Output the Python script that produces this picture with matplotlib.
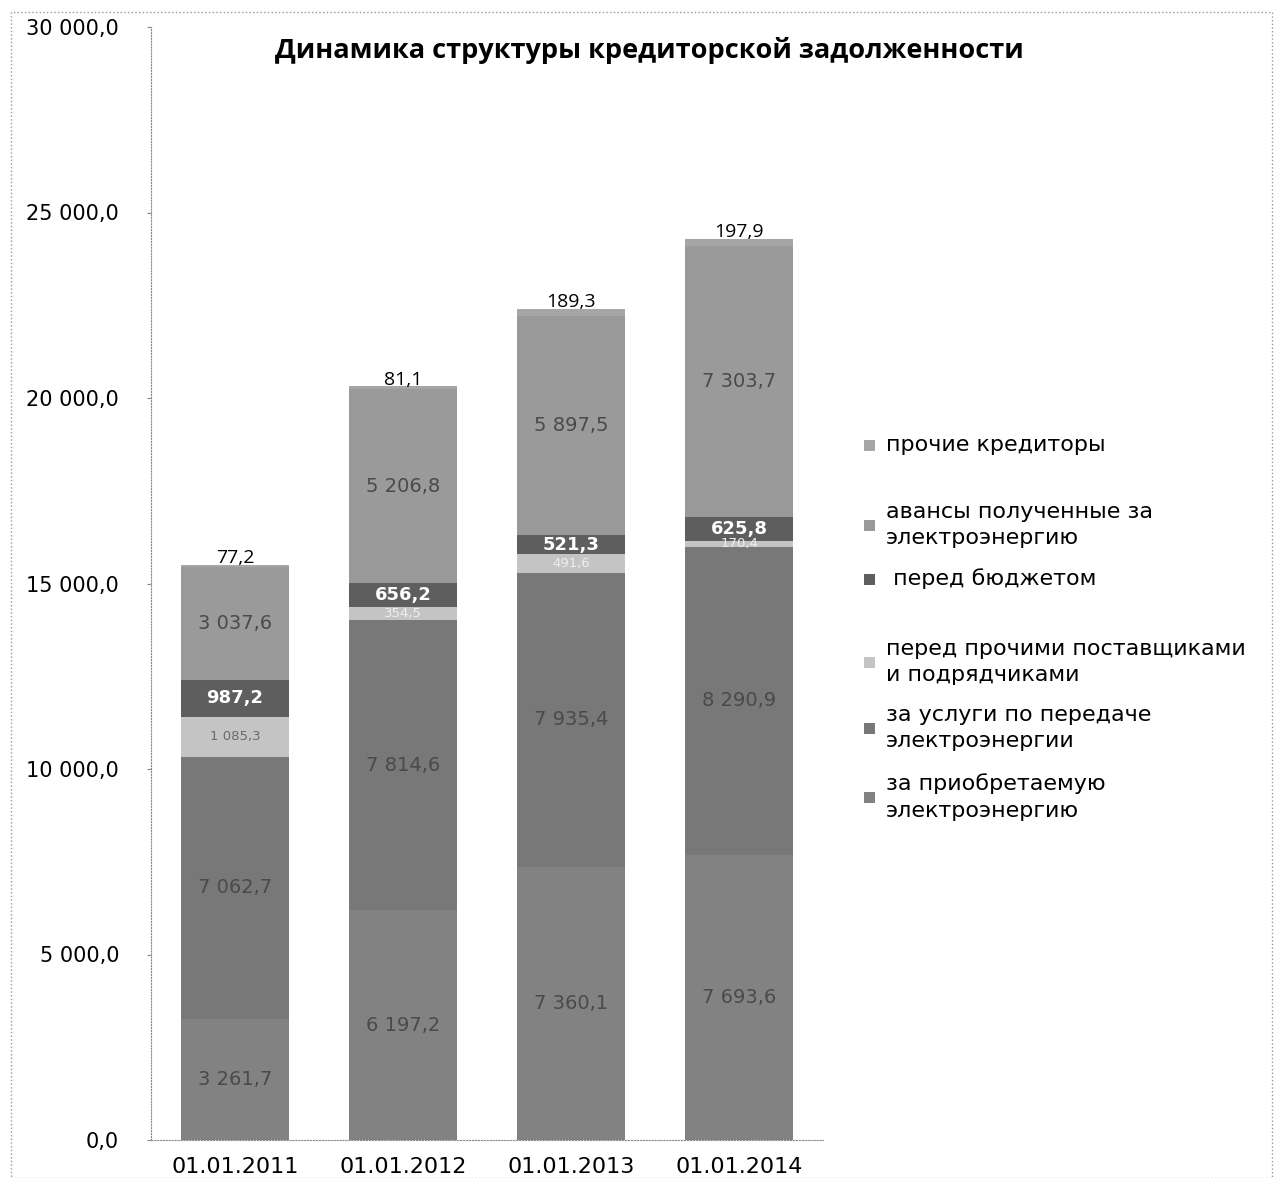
import numpy as np
import matplotlib
matplotlib.use("Agg")
from matplotlib import pyplot as plt
from matplotlib.patches import Rectangle

plt.rcParams["font.family"] = ["DejaVu Sans"]

dates = ["01.01.2011", "01.01.2012", "01.01.2013", "01.01.2014"]

# series, bottom to top
purchase = [3261.7, 6197.2, 7360.1, 7693.6]
transfer = [7062.7, 7814.6, 7935.4, 8290.9]
suppliers = [1085.3, 354.5, 491.6, 170.4]
budget = [987.2, 656.2, 521.3, 625.8]
advances = [3037.6, 5206.8, 5897.5, 7303.7]
others = [77.2, 81.1, 189.3, 197.9]

series_names = [
    "за приобретаемую\nэлектроэнергию",
    "за услуги по передаче\nэлектроэнергии",
    "перед прочими поставщиками\nи подрядчиками",
    " перед бюджетом",
    "авансы полученные за\nэлектроэнергию",
    "прочие кредиторы",
]
series_vals = [purchase, transfer, suppliers, budget, advances, others]
colors = ["#828282", "#787878", "#c4c4c4", "#5e5e5e", "#9a9a9a", "#a6a6a6"]


def fmt(v):
    s = f"{v:,.1f}".replace(",", " ").replace(".", ",")
    return s


fig = plt.figure(figsize=(12.74, 11.78), dpi=100)
ax = fig.add_axes([151 / 1274, 38 / 1178, (823 - 151) / 1274, (1140 - 27) / 1178])

x = np.arange(len(dates))
bottom = np.zeros(len(dates))
for i, (name, vals) in enumerate(zip(series_names, series_vals)):
    vals = np.array(vals)
    ax.bar(x, vals, 0.645, bottom=bottom, color=colors[i], edgecolor="none")
    for j in range(len(x)):
        cy = bottom[j] + vals[j] / 2
        if i == 5:
            ax.text(x[j], bottom[j] + vals[j] - 60, fmt(vals[j]), ha="center",
                    va="bottom", fontsize=14, color="black",
                    family=["Open Sans", "DejaVu Sans"])
        elif i == 3:
            ax.text(x[j], cy, fmt(vals[j]), ha="center", va="center",
                    fontsize=13, color="white", fontweight="bold")
        elif i == 2:
            ax.text(x[j], cy, fmt(vals[j]), ha="center", va="center",
                    fontsize=9.5, color="#eeeeee" if j > 0 else "#6a6a6a")
        else:
            ax.text(x[j], cy, fmt(vals[j]), ha="center", va="center",
                    fontsize=14, color="#4a4a4a")
    bottom += vals

ax.set_xlim(-0.5, 3.5)
ax.set_ylim(0, 30000)
ax.set_yticks(np.arange(0, 30001, 5000))
ax.set_yticklabels([fmt(v) for v in np.arange(0, 30001, 5000)], fontsize=15)
ax.set_xticks(x)
ax.set_xticklabels(dates, fontsize=16)
ax.tick_params(axis="x", length=0, pad=12)
ax.tick_params(axis="y", length=3, direction="out", pad=20, color="#888888")
for s in ["top", "right"]:
    ax.spines[s].set_visible(False)
ax.spines["left"].set_color("#888888")
ax.spines["left"].set_linestyle(":")
ax.spines["bottom"].set_color("#888888")
ax.spines["bottom"].set_linestyle(":")

fig.text(649 / 1274, 1 - 50 / 1178, "Динамика структуры кредиторской задолженности",
         ha="center", va="center", fontsize=19.5, fontweight="bold",
         family=["Open Sans", "DejaVu Sans"])

# legend, top entry first
legend_y = [445, 525, 579, 662, 728, 797]
for k, yy in enumerate(legend_y):
    idx = 5 - k
    fig.patches.append(Rectangle((864 / 1274, 1 - (yy + 6) / 1178), 11 / 1274, 11 / 1178,
                                 transform=fig.transFigure, facecolor=colors[idx],
                                 edgecolor="none"))
    fig.text(886 / 1274, 1 - yy / 1178, series_names[idx], ha="left", va="center",
             fontsize=16, linespacing=1.4)

# dotted outer frame
fig.patches.append(Rectangle((11 / 1274, 0.0), 1 - 13 / 1274, 1 - 12 / 1178,
                             transform=fig.transFigure, fill=False,
                             edgecolor="#999999", linestyle=":", linewidth=1))

fig.savefig("out.png", dpi=100)
